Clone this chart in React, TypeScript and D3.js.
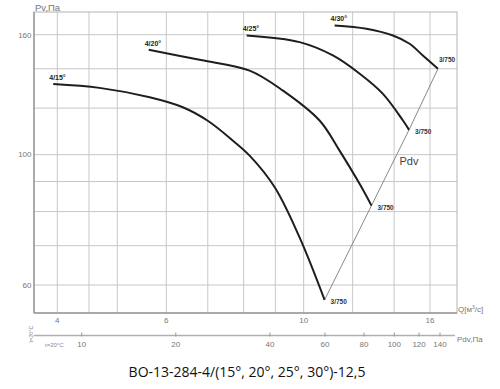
import React from 'react'
import * as d3 from 'd3'

// fan curves, Q in m3/s, Pv in Pa
const q15 = [3.94, 4.68, 5.64, 6.38, 6.99, 7.69, 8.18, 8.98, 9.85, 10.81]
const p15 = [131.9, 129.9, 125.2, 120.4, 114.3, 105.6, 99.6, 88.0, 72.3, 56.6]

const q20 = [5.62, 6.79, 8.18, 9.26, 10.61, 11.43, 12.32, 12.87]
const p20 = [150.8, 145.0, 139.0, 128.5, 114.3, 101.6, 89.1, 81.9]

const q25 = [8.09, 9.85, 11.15, 12.32, 13.43, 14.47, 14.8]
const p25 = [159.5, 155.4, 147.5, 137.3, 126.9, 114.3, 110.2]

const q30 = [11.22, 12.63, 13.94, 14.83, 15.58, 16.48]
const p30 = [165.9, 163.8, 159.5, 154.4, 147.5, 140.0]

const angles = ['4/15°', '4/20°', '4/25°', '4/30°']
const endLabel = '3/750'

const qTicks = [4, 6, 10, 16]
const qGrid = [4, 4.5, 5, 6, 7, 8, 9, 10, 12, 14, 16]
const pTicks = [60, 100, 160]
const pGrid = [60, 70, 80, 90, 100, 120, 140, 160]
const pdvTicks = [10, 20, 40, 60, 80, 100, 120, 140]

const title = 'BO-13-284-4/(15°, 20°, 25°, 30°)-12,5'

const plotL = 34, plotR = 457, plotT = 12, plotB = 313
const pdvY = 335.5

function App() {
  const x = d3.scaleLog().domain([4, 16]).range([57.3, 430])
  const y = d3.scaleLog().domain([60, 160]).range([285, 34.7])
  const xPdv = d3.scaleLog().domain([10, 140]).range([81.7, 440])

  const series = [[q15, p15], [q20, p20], [q25, p25], [q30, p30]].map(([qs, ps]) =>
    qs.map((q, i) => ({ q, p: ps[i] })))

  const curveGen = d3.line<{ q: number, p: number }>()
    .x(d => x(d.q))
    .y(d => y(d.p))
    .curve(d3.curveCatmullRom.alpha(0.5))

  // system line through the curve ends
  const ends = series.map(s => s[s.length - 1])
  const straightGen = d3.line<{ q: number, p: number }>().x(d => x(d.q)).y(d => y(d.p))

  return (
    <svg width={500} height={389} style={{ position: 'absolute', left: 0, top: 0 }}
      fontFamily='"Liberation Sans", Arial, sans-serif'>
      <g strokeWidth={1}>
        {qGrid.map(v => (
          <line key={'gx' + v} x1={x(v)} x2={x(v)} y1={plotT} y2={plotB} stroke="#c8c8c8" />
        ))}
        {pGrid.map(v => (
          <line key={'gy' + v} x1={plotL} x2={plotR} y1={y(v)} y2={y(v)} stroke="#c8c8c8" />
        ))}
      </g>
      <g fill="none">
        <rect x={plotL} y={plotT} width={plotR - plotL} height={plotB - plotT} stroke="#b4b4b4" />
        <line x1={plotL} x2={plotL} y1={plotT} y2={plotB} stroke="#9a9a9a" strokeWidth={1.5} />
        <line x1={plotL} x2={plotR} y1={plotB} y2={plotB} stroke="#9a9a9a" strokeWidth={1.5} />
      </g>

      {/* y labels */}
      {pTicks.map(v => (
        <text key={'py' + v} x={31.5} y={y(v)} dy="0.35em" textAnchor="end" fontSize={8} fill="#777">{v}</text>
      ))}
      <text x={35} y={11} fontSize={9.5} fill="#777">Pv,Па</text>

      {/* Q labels */}
      {qTicks.map(v => (
        <text key={'qx' + v} x={x(v)} y={323} textAnchor="middle" fontSize={8} fill="#777">{v}</text>
      ))}
      <text x={458} y={312} fontSize={8} fill="#777">Q[м<tspan dy={-3} fontSize={5}>3</tspan><tspan dy={3}>/с]</tspan></text>

      {/* Pdv axis */}
      <g>
        <line x1={plotL} x2={455} y1={pdvY} y2={pdvY} stroke="#b0b0b0" strokeWidth={1.5} />
        {pdvTicks.map(v => (
          <g key={'pd' + v}>
            <line x1={xPdv(v)} x2={xPdv(v)} y1={pdvY - 3} y2={pdvY + 1} stroke="#999" />
            <text x={xPdv(v)} y={347} textAnchor="middle" fontSize={8} fill="#777">{v}</text>
          </g>
        ))}
      </g>
      <text x={457} y={342} fontSize={8} fill="#777">Pdv,Па</text>
      <text x={45} y={346.5} fontSize={6} fill="#888">t=20°C</text>
      <text transform="translate(32.5,334) rotate(-90)" textAnchor="middle" fontSize={5.5} fill="#888">t=20°C</text>

      {/* Pdv system line */}
      <path d={straightGen(ends) ?? ''} fill="none" stroke="#888" strokeWidth={1} />
      <text x={409} y={165} textAnchor="middle" fontSize={11} fill="#444">Pdv</text>

      {/* curves */}
      {series.map((s, i) => (
        <g key={'c' + i}>
          <path d={curveGen(s) ?? ''} fill="none" stroke="#1e1e1e" strokeWidth={2} />
          <text x={x(s[0].q) - 4} y={y(s[0].p) - 4} fontSize={7} fontWeight="bold" fill="#222">{angles[i]}</text>
          {i < 3 ? (
            <text x={x(s[s.length - 1].q) + 6} y={y(s[s.length - 1].p) + 4} fontSize={6.5} fontWeight="bold" fill="#333">{endLabel}</text>
          ) : (
            <text x={x(s[s.length - 1].q) + 1} y={y(s[s.length - 1].p) - 7} fontSize={6.5} fontWeight="bold" fill="#333">{endLabel}</text>
          )}
        </g>
      ))}

      <text x={247} y={377} textAnchor="middle" fontSize={14} fill="#111"
        fontFamily='"Open Sans", sans-serif'>{title}</text>
    </svg>
  )
}

export default App
